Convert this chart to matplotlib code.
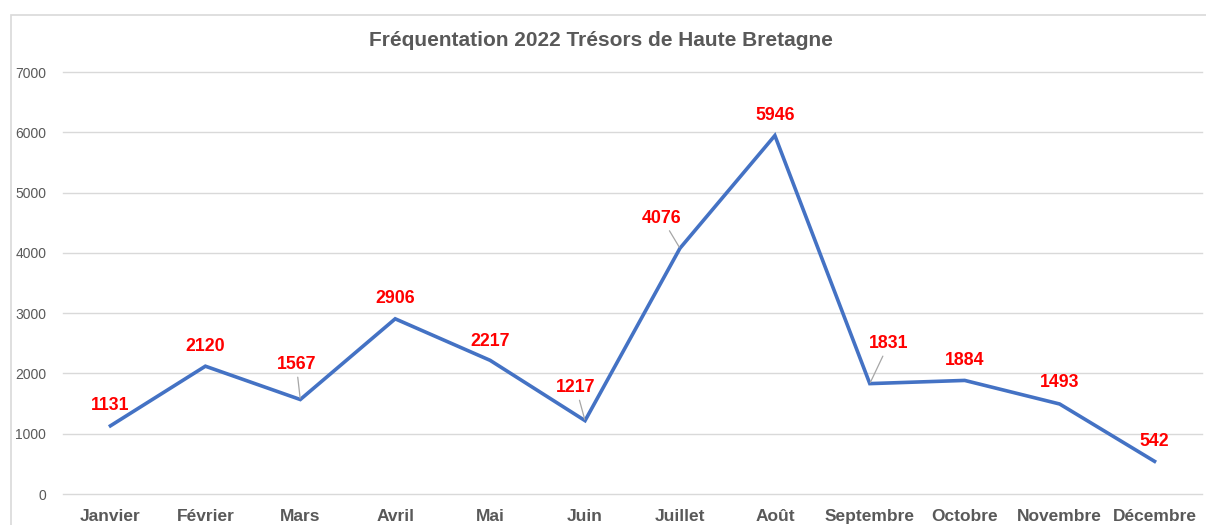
import matplotlib
matplotlib.use("Agg")
import matplotlib.pyplot as plt
from matplotlib.patches import Rectangle

months = ["Janvier", "Février", "Mars", "Avril", "Mai", "Juin", "Juillet",
          "Août", "Septembre", "Octobre", "Novembre", "Décembre"]
visitors = [1131, 2120, 1567, 2906, 2217, 1217, 4076, 5946, 1831, 1884, 1493, 542]
yticks = [0, 1000, 2000, 3000, 4000, 5000, 6000, 7000]
title = "Fréquentation 2022 Trésors de Haute Bretagne"

# label offsets in pixels (dx, dy) and whether a leader line is drawn
label_offsets = [(0, 20), (0, 20), (-4, 35), (0, 20), (0, 19), (-9, 33),
                 (-18, 30), (0, 20), (19, 40), (0, 20), (0, 21), (0, 20)]
leaders = [False, False, True, False, False, True, True, False, True, False, False, False]

W, H = 1206, 525
fig = plt.figure(figsize=(W / 100, H / 100), dpi=100)
fig.patch.set_facecolor("white")

# outer chart border
fig.patches.append(Rectangle((10.5 / W, -0.1), 1.2, (H - 14.5) / H + 0.1,
                             transform=fig.transFigure, fill=False,
                             edgecolor="#D9D9D9", linewidth=1.2))

ax = fig.add_axes([63 / W, (H - 494) / H, (1202 - 63) / W, (494 - 72) / H])
x = list(range(len(months)))
ax.plot(x, visitors, color="#4472C4", linewidth=2.6, solid_joinstyle="miter", zorder=3)

ax.set_xlim(-0.5, len(months) - 0.5)
ax.set_ylim(0, 7000)
ax.set_yticks(yticks)
ax.set_yticklabels([str(v) for v in yticks], fontsize=10, color="#595959",
                   family="Liberation Sans")
ax.set_xticks(x)
ax.set_xticklabels(months, fontsize=12.5, fontweight="bold", color="#595959",
                   family="Liberation Sans")
ax.tick_params(axis="both", length=0)
ax.tick_params(axis="y", pad=12)
ax.tick_params(axis="x", pad=11)
for s in ax.spines.values():
    s.set_visible(False)
ax.grid(axis="y", color="#D9D9D9", linewidth=1.0)
for gl in ax.get_ygridlines():
    gl.set_clip_on(False)
ax.set_axisbelow(True)

for i, v in enumerate(visitors):
    dx, dy = label_offsets[i]
    kw = {}
    if leaders[i]:
        kw["arrowprops"] = dict(arrowstyle="-", color="#A6A6A6", linewidth=0.9,
                                shrinkA=1, shrinkB=1)
    ax.annotate(str(v), xy=(i, v), xytext=(dx, dy), textcoords="offset pixels",
                ha="center", va="center", fontsize=12.8, fontweight="bold",
                color="#FF0000", family="Liberation Sans", zorder=4, **kw)

fig.text(601 / W, 1 - 40 / H, title, ha="center", va="center", fontsize=15,
         fontweight="bold", color="#595959", family="Liberation Sans")

fig.savefig("out.png", dpi=100)
